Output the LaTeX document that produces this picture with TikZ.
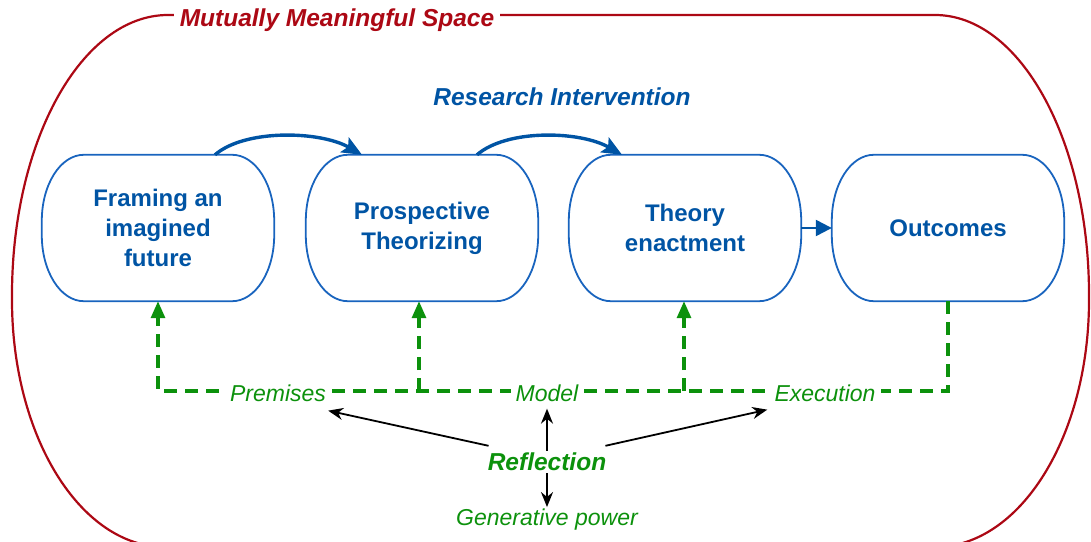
\documentclass[tikz,border=0pt]{standalone}
\usepackage{fontspec}
\setmainfont{Liberation Sans}
\usetikzlibrary{arrows.meta}
\definecolor{myblue}{RGB}{0,84,164}
\definecolor{boxblue}{RGB}{25,100,190}
\definecolor{mygreen}{RGB}{12,145,12}
\definecolor{myred}{RGB}{172,8,20}
\tikzset{
  capbox/.style={minimum width=232pt, minimum height=146pt, inner sep=0pt, align=center,
    text=myblue, font=\bfseries\fontsize{24}{30}\selectfont},
  capline/.style={draw=boxblue, line width=1.8pt},
  barrow/.style={draw=myblue, line width=3.4pt, -{Stealth[length=20pt,width=17pt,inset=4pt]}},
  gline/.style={draw=mygreen, line width=3.2pt, dash pattern=on 13pt off 8pt},
  gtip/.style={-{Triangle[length=17pt,width=14pt]}},
  glabel/.style={text=mygreen, fill=white, inner sep=5pt, font=\itshape\fontsize{23}{27}\selectfont},
  karrow/.style={draw=black, line width=1.8pt, -{Stealth[length=15pt,width=12pt]}}
}
\newcommand{\capoutline}[1]{%
  \draw[capline] ([xshift=42pt]#1.north west) -- ([xshift=-42pt]#1.north east)
    arc[start angle=90,end angle=0,x radius=42pt,y radius=66pt]
    -- ([yshift=66pt]#1.south east)
    arc[start angle=0,end angle=-90,x radius=42pt,y radius=66pt]
    -- ([xshift=42pt]#1.south west)
    arc[start angle=270,end angle=180,x radius=42pt,y radius=66pt]
    -- ([yshift=-66pt]#1.north west)
    arc[start angle=180,end angle=90,x radius=42pt,y radius=66pt] -- cycle;}
\begin{document}
\begin{tikzpicture}[x=1pt,y=1pt]
\useasboundingbox (0,0) rectangle (1091,541);
% outer red space
\begin{scope}
\clip (0,0) rectangle (1091,541);
\draw[myred, line width=2.2pt] (505,526) -- (935,526)
  arc[start angle=90,end angle=0,x radius=154,y radius=280]
  -- (1089,241)
  arc[start angle=0,end angle=-90,x radius=154,y radius=247]
  -- (165,-6)
  arc[start angle=270,end angle=180,x radius=153,y radius=247]
  -- (12,246)
  arc[start angle=180,end angle=90,x radius=156,y radius=280]
  -- cycle;
\end{scope}
\node[fill=white, inner sep=6pt, text=myred, font=\bfseries\itshape\fontsize{24.5}{28}\selectfont] (title) at (337,521) {Mutually Meaningful Space};

% boxes
\node[capbox] (b1) at (158,313) {Framing an\\imagined\\future};
\node[capbox] (b2) at (422,313) {Prospective\\Theorizing};
\node[capbox] (b3) at (685,313) {Theory\\enactment};
\node[capbox] (b4) at (948,313) {Outcomes};
\capoutline{b1}
\capoutline{b2}
\capoutline{b3}
\capoutline{b4}

\node[text=myblue, font=\bfseries\itshape\fontsize{24.5}{28}\selectfont] (ri) at (562,444) {Research Intervention};

% blue arrows
\draw[barrow] ([xshift=57pt]b1.north) .. controls +(30pt,26pt) and +(-42pt,24pt) .. ([xshift=-60pt]b2.north);
\draw[barrow] ([xshift=55pt]b2.north) .. controls +(30pt,26pt) and +(-42pt,24pt) .. ([xshift=-63pt]b3.north);
\draw[draw=myblue, line width=2.4pt, -{Triangle[length=16pt,width=16pt]}] (b3.east) -- (b4.west);

% green feedback
\coordinate (hl) at (0,150);
\draw[gline, gtip] (b4.south) -- (b4.south |- hl) -- (b1.south |- hl) -- (b1.south);
\draw[gline, gtip] ([xshift=-3pt]b2.south |- hl) -- ([xshift=-3pt]b2.south);
\draw[gline, gtip] ([xshift=-1pt]b3.south |- hl) -- ([xshift=-1pt]b3.south);
\node[glabel] (prem) at (278,148) {Premises};
\node[glabel] (model) at (547,148) {Model};
\node[glabel] (exec) at (825,148) {Execution};

% reflection
\node[text=mygreen, font=\bfseries\itshape\fontsize{24.5}{28}\selectfont, inner sep=2pt] (refl) at (547,79) {Reflection};
\node[text=mygreen, font=\itshape\fontsize{23}{27}\selectfont, inner sep=2pt] (gen) at (547,21) {Generative power};
\draw[karrow] ([shift={(3pt,5pt)}]refl.north west) -- ([shift={(-3pt,-4pt)}]prem.south east);
\draw[karrow] ([shift={(-3pt,5pt)}]refl.north east) -- ([shift={(-2pt,-3pt)}]exec.south west);
\draw[karrow] (refl.north) -- ([yshift=-2pt]model.south);
\draw[karrow] (refl.south) -- (gen.north);
\end{tikzpicture}
\end{document}
